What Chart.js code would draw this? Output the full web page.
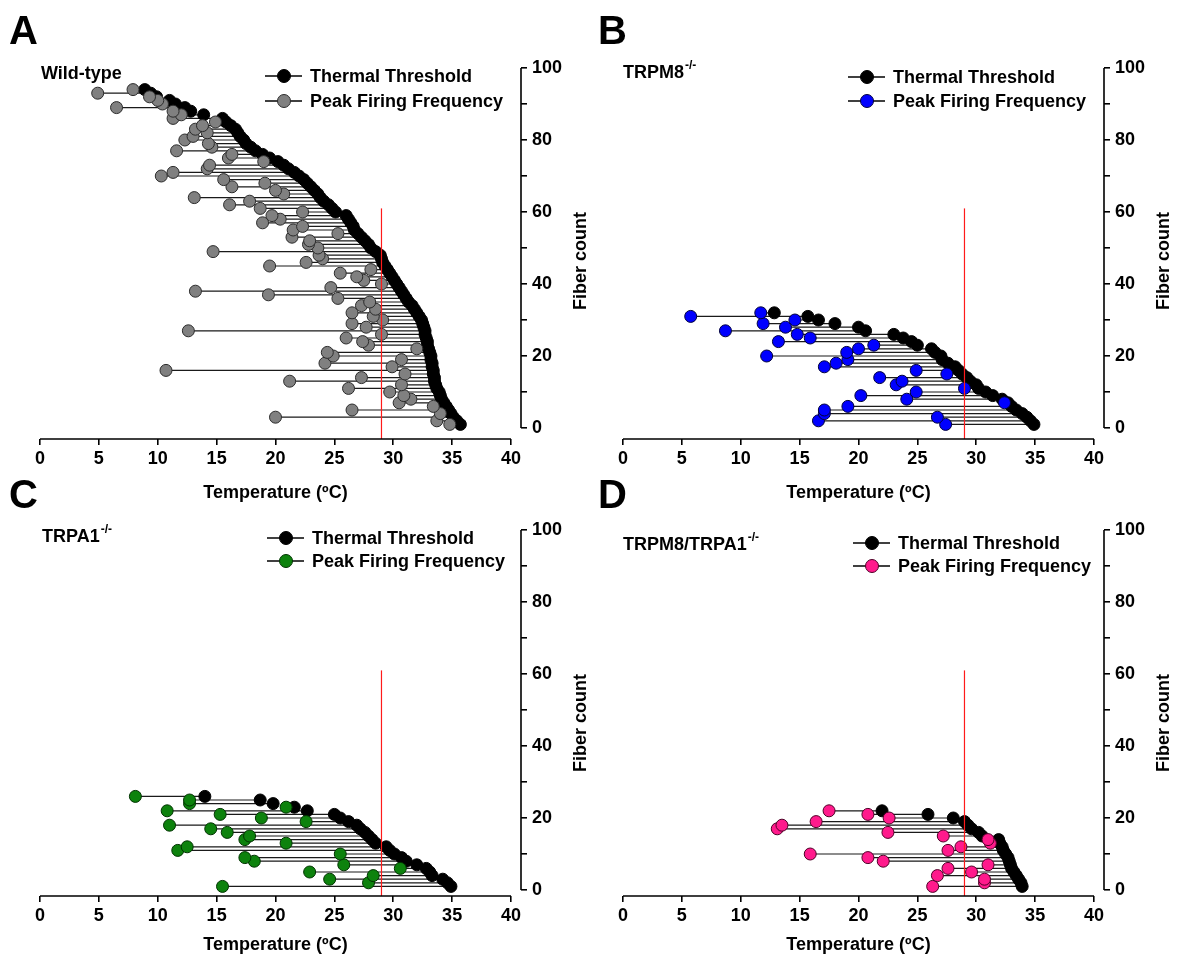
<!DOCTYPE html>
<html>
<head>
<meta charset="utf-8">
<title>Cold fibers: thermal threshold vs peak firing</title>
<script src="https://cdn.jsdelivr.net/npm/chart.js@4.4.0/dist/chart.umd.min.js"></script>
<style>
  body { margin: 0; background: #fff; }
  #fig { position: relative; width: 1182px; height: 968px; overflow: hidden; background: #fff; }
  #fig canvas { position: absolute; }
</style>
</head>
<body>
<div id="fig">
  <canvas id="panelA" width="591" height="510" style="left:0;top:0"></canvas>
  <canvas id="panelB" width="591" height="510" style="left:583px;top:0"></canvas>
  <canvas id="panelC" width="591" height="506" style="left:0;top:462px"></canvas>
  <canvas id="panelD" width="591" height="506" style="left:583px;top:462px"></canvas>
</div>
<script>
// axes
const tempTicks = [0, 5, 10, 15, 20, 25, 30, 35, 40];
const countTicks = [0, 20, 40, 60, 80, 100];
const coldLine = 29;        // ºC
const coldLineTop = 61;     // fiber count where the marker line stops

// temperatures (ºC) per fiber, fiber 1 first
const wtThreshold = [35.7, 35.4, 35.1, 34.9, 34.7, 34.5, 34.3, 34.1, 34.0, 33.9,
  33.7, 33.6, 33.5, 33.5, 33.4, 33.4, 33.3, 33.3, 33.2, 33.2,
  33.1, 33.0, 32.9, 32.9, 32.8, 32.7, 32.7, 32.6, 32.5, 32.4,
  32.2, 32.0, 31.8, 31.6, 31.3, 31.1, 30.9, 30.7, 30.5, 30.3,
  30.1, 29.9, 29.7, 29.5, 29.3, 29.1, 29.0, 28.9, 28.5, 28.1,
  27.9, 27.6, 27.3, 27.0, 26.7, 26.6, 26.4, 26.2, 26.0, 25.1,
  24.8, 24.5, 24.1, 23.8, 23.6, 23.3, 23.0, 22.7, 22.4, 22.0,
  21.6, 21.1, 20.7, 20.2, 19.5, 18.9, 18.3, 17.9, 17.5, 17.3,
  17.0, 16.8, 16.6, 16.2, 15.8, 15.5, 13.9, 12.8, 12.3, 11.5,
  11.0, 9.9, 9.4, 8.9];
const wtPeak = [34.8, 33.7, 20.0, 34.0, 26.5, 33.4, 30.5, 31.5, 30.9, 29.7,
  26.2, 30.7, 21.2, 27.3, 31.0, 10.7, 29.9, 24.2, 30.7, 24.9,
  24.4, 32.0, 27.9, 27.4, 26.0, 29.0, 12.6, 27.7, 26.5, 29.1,
  28.3, 26.5, 28.5, 27.3, 28.0, 25.3, 19.4, 13.2, 24.7, 29.0,
  27.5, 26.9, 25.5, 28.1, 19.5, 22.6, 24.0, 23.7, 14.7, 23.6,
  22.8, 22.9, 21.4, 25.3, 21.5, 22.3, 18.9, 20.4, 19.7, 22.3,
  18.7, 16.1, 17.8, 13.1, 20.7, 20.0, 16.3, 19.1, 15.6, 10.3,
  11.3, 14.2, 14.4, 19.0, 16.0, 16.3, 11.6, 14.6, 14.3, 12.3,
  13.0, 14.2, 13.2, 13.8, 14.9, 11.3, 12.0, 11.3, 6.5, 10.4,
  10.0, 9.3, 4.9, 7.9];

const m8Threshold = [34.9, 34.6, 34.3, 33.9, 33.4, 33.0, 32.7, 32.2, 31.4, 30.8,
  30.2, 30.0, 29.5, 29.2, 28.8, 28.5, 28.2, 27.6, 27.1, 27.0,
  26.5, 26.2, 25.0, 24.5, 23.8, 23.0, 20.6, 20.0, 18.0, 16.6,
  15.7, 12.85];
const m8Peak = [27.4, 16.6, 26.7, 17.1, 17.1, 19.1, 32.4, 24.1, 20.2, 24.9,
  29.0, 23.2, 23.7, 21.8, 27.5, 24.9, 17.1, 18.1, 19.1, 12.2,
  19.0, 20.0, 21.3, 13.2, 15.9, 14.8, 8.7, 13.8, 11.9, 14.6,
  5.75, 11.7];

const a1Threshold = [34.9, 34.6, 34.2, 33.3, 33.1, 32.8, 32.0, 31.1, 30.7, 30.1,
  29.7, 29.4, 28.5, 28.2, 27.9, 27.6, 27.2, 26.9, 26.2, 25.5,
  25.0, 22.7, 21.6, 19.8, 18.7, 14.0];
const a1Peak = [15.5, 27.9, 24.6, 28.3, 22.9, 30.6, 25.8, 18.2, 17.4, 25.5,
  11.7, 12.5, 20.9, 17.4, 17.8, 15.9, 14.5, 11.0, 22.6, 18.8,
  15.3, 10.8, 20.9, 12.7, 12.7, 8.1];

const dkoThreshold = [33.9, 33.8, 33.6, 33.4, 33.2, 33.0, 32.9, 32.8, 32.7, 32.5,
  32.3, 32.2, 32.0, 31.9, 30.5, 30.2, 29.6, 29.3, 29.0, 28.05,
  25.9, 22.0];
const dkoPeak = [26.3, 30.7, 30.7, 26.7, 29.6, 27.6, 31.0, 22.1, 20.8, 15.9,
  27.6, 28.7, 31.2, 31.0, 27.2, 22.5, 13.1, 13.5, 16.4, 22.6,
  20.8, 17.5];

const seriesNames = ['Thermal Threshold', 'Peak Firing Frequency'];
const FONT = '"Liberation Sans", Arial, sans-serif';

// axes lines, axis titles, legend and panel labels
const panelDecor = {
  id: 'panelDecor',
  afterDraw(chart, args, o) {
    const {ctx, chartArea} = chart;
    const xs = chart.scales.x, ys = chart.scales.y;
    ctx.save();
    ctx.strokeStyle = '#000';
    ctx.lineWidth = 1.6;
    ctx.beginPath();
    ctx.moveTo(xs.getPixelForValue(tempTicks[0]), xs.top);
    ctx.lineTo(xs.getPixelForValue(tempTicks[tempTicks.length - 1]), xs.top);
    ctx.moveTo(ys.left, ys.getPixelForValue(countTicks[0]));
    ctx.lineTo(ys.left, ys.getPixelForValue(countTicks[countTicks.length - 1]));
    ctx.stroke();

    ctx.fillStyle = '#000';
    ctx.font = 'bold 18px ' + FONT;
    ctx.textBaseline = 'middle';
    ctx.textAlign = 'center';
    const midX = (xs.getPixelForValue(0) + xs.getPixelForValue(40)) / 2;
    ctx.fillText('Temperature (ºC)', midX, xs.top + o.xTitleGap);

    ctx.save();
    ctx.translate(chartArea.right + 60, o.yTitleY);
    ctx.rotate(-Math.PI / 2);
    ctx.fillText('Fiber count', 0, 0);
    ctx.restore();

    // legend
    ctx.textAlign = 'left';
    const lg = o.legend;
    [1, 2].forEach((di, k) => {
      const ds = chart.data.datasets[di];
      const ly = lg.y + k * lg.dy;
      ctx.strokeStyle = '#000';
      ctx.lineWidth = 1.3;
      ctx.beginPath();
      ctx.moveTo(lg.x, ly);
      ctx.lineTo(lg.x + 37, ly);
      ctx.stroke();
      ctx.beginPath();
      ctx.arc(lg.x + 19, ly, 6.5, 0, Math.PI * 2);
      ctx.fillStyle = ds.backgroundColor;
      ctx.fill();
      ctx.lineWidth = 1;
      ctx.strokeStyle = ds.borderColor;
      ctx.stroke();
      ctx.fillStyle = '#000';
      ctx.font = 'bold 18px ' + FONT;
      ctx.fillText(ds.label, lg.x + 45, ly + 1);
    });

    // genotype label with superscript
    ctx.font = 'bold 18px ' + FONT;
    ctx.fillText(o.genotype[0], o.genotypeAt.x, o.genotypeAt.y);
    if (o.genotype[1]) {
      const w = ctx.measureText(o.genotype[0]).width;
      ctx.font = 'bold 12px ' + FONT;
      ctx.fillText(o.genotype[1], o.genotypeAt.x + w + 1, o.genotypeAt.y - 7);
    }

    // panel letter
    ctx.font = 'bold 40px ' + FONT;
    ctx.textBaseline = 'alphabetic';
    ctx.fillText(o.letter, o.letterAt.x, o.letterAt.y);
    ctx.restore();
  }
};

function points(vals) {
  return vals.map((v, i) => ({x: v, y: i + 1}));
}

function makePanel(id, cfg) {
  const yMin = -(cfg.axisBottom - cfg.zeroY) / 3.6;
  const links = [];
  cfg.threshold.forEach((t, i) => {
    links.push({x: cfg.peak[i], y: i + 1}, {x: t, y: i + 1}, {x: null, y: null});
  });
  const tickFont = {family: FONT, size: 18, weight: 'bold'};
  return new Chart(document.getElementById(id), {
    type: 'scatter',
    data: {
      datasets: [
        {
          type: 'line', label: 'range', data: links,
          borderColor: '#1a1a1a', borderWidth: 1.2, pointRadius: 0, order: 3
        },
        {
          label: seriesNames[0], data: points(cfg.threshold),
          backgroundColor: '#000', borderColor: '#000',
          pointRadius: 6, borderWidth: 1, order: 2
        },
        {
          label: seriesNames[1], data: points(cfg.peak),
          backgroundColor: cfg.color, borderColor: cfg.edge,
          pointRadius: 6, borderWidth: 1, order: 1
        },
        {
          type: 'line', label: 'cold', data: [{x: coldLine, y: yMin}, {x: coldLine, y: coldLineTop}],
          borderColor: '#ff1a1a', borderWidth: 1.2, pointRadius: 0, order: 0
        }
      ]
    },
    options: {
      responsive: false,
      animation: false,
      events: [],
      layout: {padding: {left: 40, top: 68, right: 0, bottom: 0}},
      plugins: {
        legend: {display: false},
        tooltip: {enabled: false},
        panelDecor: cfg.decor
      },
      scales: {
        x: {
          type: 'linear', min: 0, max: 40 + 10 / 11.775,
          ticks: {
            stepSize: 5, includeBounds: false, autoSkip: false, maxRotation: 0,
            color: '#000', font: tickFont, padding: 3
          },
          grid: {drawOnChartArea: false, drawTicks: true, tickLength: 6, color: '#000', lineWidth: 1.6},
          border: {display: false},
          afterFit: s => { s.height = cfg.height - cfg.axisBottom; }
        },
        y: {
          type: 'linear', position: 'right', min: yMin, max: 100,
          ticks: {
            stepSize: 10, includeBounds: false, autoSkip: false,
            color: '#000', font: tickFont, padding: 5,
            callback: v => (countTicks.includes(v) ? String(v) : '')
          },
          grid: {drawOnChartArea: false, drawTicks: true, tickLength: 6, color: '#000', lineWidth: 1.6},
          border: {display: false},
          afterFit: s => { s.width = 70; }
        }
      }
    },
    plugins: [panelDecor]
  });
}

makePanel('panelA', {
  threshold: wtThreshold, peak: wtPeak, color: '#808080', edge: '#2b2b2b',
  height: 510, zeroY: 428, axisBottom: 439,
  decor: {
    letter: 'A', letterAt: {x: 9, y: 44},
    genotype: ['Wild-type'], genotypeAt: {x: 41, y: 74},
    legend: {x: 265, y: 76, dy: 25},
    xTitleGap: 54, yTitleY: 261
  }
});

makePanel('panelB', {
  threshold: m8Threshold, peak: m8Peak, color: '#0000ff', edge: '#00003c',
  height: 510, zeroY: 428, axisBottom: 439,
  decor: {
    letter: 'B', letterAt: {x: 15, y: 44},
    genotype: ['TRPM8', '-/-'], genotypeAt: {x: 40, y: 73},
    legend: {x: 265, y: 77, dy: 24},
    xTitleGap: 54, yTitleY: 261
  }
});

makePanel('panelC', {
  threshold: a1Threshold, peak: a1Peak, color: '#0d820d', edge: '#003300',
  height: 506, zeroY: 428, axisBottom: 434,
  decor: {
    letter: 'C', letterAt: {x: 9, y: 46},
    genotype: ['TRPA1', '-/-'], genotypeAt: {x: 42, y: 75},
    legend: {x: 267, y: 76, dy: 23},
    xTitleGap: 49, yTitleY: 261
  }
});

makePanel('panelD', {
  threshold: dkoThreshold, peak: dkoPeak, color: '#ff1a8c', edge: '#4d0026',
  height: 506, zeroY: 428, axisBottom: 434,
  decor: {
    letter: 'D', letterAt: {x: 15, y: 46},
    genotype: ['TRPM8/TRPA1', '-/-'], genotypeAt: {x: 40, y: 83},
    legend: {x: 270, y: 81, dy: 23},
    xTitleGap: 49, yTitleY: 261
  }
});
</script>
</body>
</html>
